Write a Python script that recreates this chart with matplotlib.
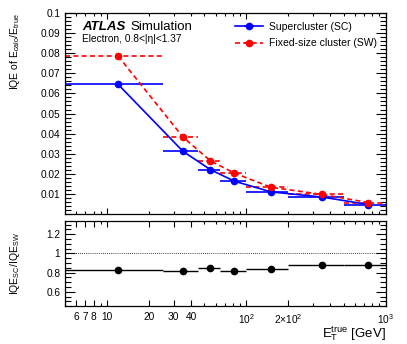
import numpy as np
import matplotlib
matplotlib.use("Agg")
import matplotlib.pyplot as plt
from matplotlib.ticker import FixedLocator, MultipleLocator, NullFormatter, FixedFormatter

plt.rcParams["font.family"] = ["Liberation Sans", "DejaVu Sans"]
plt.rcParams["mathtext.fontset"] = "custom"
plt.rcParams["mathtext.rm"] = "Liberation Sans"
plt.rcParams["mathtext.it"] = "Liberation Sans:italic"

# ---------------------------------------------------------------
# DATA
# ---------------------------------------------------------------
bin_lo = [5, 25, 45, 65, 100, 200, 500]
bin_hi = [25, 45, 65, 100, 200, 500, 1000]
et_pt = [12, 35, 55, 82, 150, 350, 750]
iqe_sc = [0.0645, 0.0312, 0.0221, 0.0163, 0.0110, 0.0084, 0.0047]
iqe_sw = [0.0786, 0.0383, 0.0265, 0.0203, 0.0133, 0.0097, 0.0057]
ratio = [0.823, 0.820, 0.843, 0.820, 0.840, 0.880, 0.880]

xtick_pos = [6, 7, 8, 10, 20, 30, 40, 100, 200, 1000]
xtick_lab = ["6", "7", "8", "10", "20", "30", "40",
             r"$10^{2}$", r"$2{\times}10^{2}$", r"$10^{3}$"]

x = np.array(et_pt, dtype=float)
xerr = [x - np.array(bin_lo), np.array(bin_hi) - x]


def root_ticks(ax):
    ax.tick_params(which="both", direction="in", top=True, right=True, labelsize=7.3)
    ax.tick_params(axis="y", which="major", length=7.5, width=0.8)
    ax.tick_params(axis="y", which="minor", length=4, width=0.8)
    ax.tick_params(axis="x", which="major", length=4, width=0.8)
    ax.tick_params(axis="x", which="minor", length=2.2, width=0.8)
    for s in ax.spines.values():
        s.set_linewidth(0.9)


fig = plt.figure(figsize=(4.07, 3.44), dpi=100)
ax1 = fig.add_axes([0.160, 0.378, 0.788, 0.584])
ax2 = fig.add_axes([0.160, 0.110, 0.788, 0.248])

# ---------------------------------------------------------------
# TOP PANEL
# ---------------------------------------------------------------
ax1.errorbar(x, iqe_sc, xerr=xerr, color="blue", marker="o", ms=4.5,
             lw=1.2, elinewidth=1.2, capsize=0, label="Supercluster (SC)")
ax1.errorbar(x, iqe_sw, xerr=xerr, color="red", marker="o", ms=4.5,
             lw=1.2, elinewidth=1.2, capsize=0, ls=(0, (3, 2)),
             label="Fixed-size cluster (SW)")
# dashed style for the red horizontal bars
for c in ax1.collections:
    if c.get_colors().size and np.allclose(c.get_colors()[0][:3], (1, 0, 0)):
        c.set_linestyle((0, (3, 2)))

ax1.set_xscale("log")
ax1.set_xlim(5, 1000)
ax1.set_ylim(0, 0.1)
ax1.yaxis.set_major_locator(FixedLocator(np.arange(0.01, 0.1001, 0.01)))
ax1.yaxis.set_minor_locator(MultipleLocator(0.002))
ax1.set_yticklabels([f"{v:.2f}".rstrip("0") if v < 0.1 else "0.1"
                     for v in np.arange(0.01, 0.1001, 0.01)])
ax1.xaxis.set_major_formatter(NullFormatter())
ax1.xaxis.set_minor_formatter(NullFormatter())
root_ticks(ax1)

ax1.set_ylabel(r"IQE of E$_{\mathrm{calo}}$/E$_{\mathrm{true}}$", fontsize=7.5, loc="top")
ax1.yaxis.set_label_coords(-0.135, 1.0)

ax1.text(0.052, 0.915, "ATLAS", transform=ax1.transAxes, fontsize=9.5,
         fontweight="bold", fontstyle="italic", va="baseline")
ax1.text(0.205, 0.915, "Simulation", transform=ax1.transAxes, fontsize=9.5,
         va="baseline")
ax1.text(0.052, 0.855, "Electron, 0.8<|η|<1.37", transform=ax1.transAxes,
         fontsize=7.3, va="baseline")

leg = ax1.legend(loc="upper right", bbox_to_anchor=(1.0, 1.0), frameon=False,
                 fontsize=7.5, handlelength=2.7, handletextpad=0.55,
                 labelspacing=0.6, borderaxespad=0.45)

# ---------------------------------------------------------------
# RATIO PANEL
# ---------------------------------------------------------------
ax2.axhline(1.0, color="black", lw=0.6, ls=(0, (1, 1.5)))
ax2.errorbar(x, ratio, xerr=xerr, color="black", marker="o", ms=4.5,
             ls="none", elinewidth=1.0, capsize=0)
ax2.set_xscale("log")
ax2.set_xlim(5, 1000)
ax2.set_ylim(0.45, 1.34)
ax2.yaxis.set_major_locator(FixedLocator([0.6, 0.8, 1.0, 1.2]))
ax2.yaxis.set_minor_locator(MultipleLocator(0.05))
ax2.set_yticklabels(["0.6", "0.8", "1", "1.2"])
ax2.xaxis.set_major_locator(FixedLocator(xtick_pos))
ax2.xaxis.set_major_formatter(FixedFormatter(xtick_lab))
ax2.xaxis.set_minor_formatter(NullFormatter())
root_ticks(ax2)
ax2.tick_params(axis="x", which="major", length=4, pad=4)

ax2.set_ylabel(r"IQE$_{\mathrm{SC}}$/IQE$_{\mathrm{SW}}$", fontsize=7.5)
ax2.yaxis.set_label_coords(-0.135, 0.5)

ax2.set_xlabel(r"E$_{\mathrm{T}}^{\mathrm{true}}$ [GeV]", fontsize=9.5, loc="right")
ax2.xaxis.set_label_coords(1.0, -0.215)

fig.savefig("out.png", dpi=100)
